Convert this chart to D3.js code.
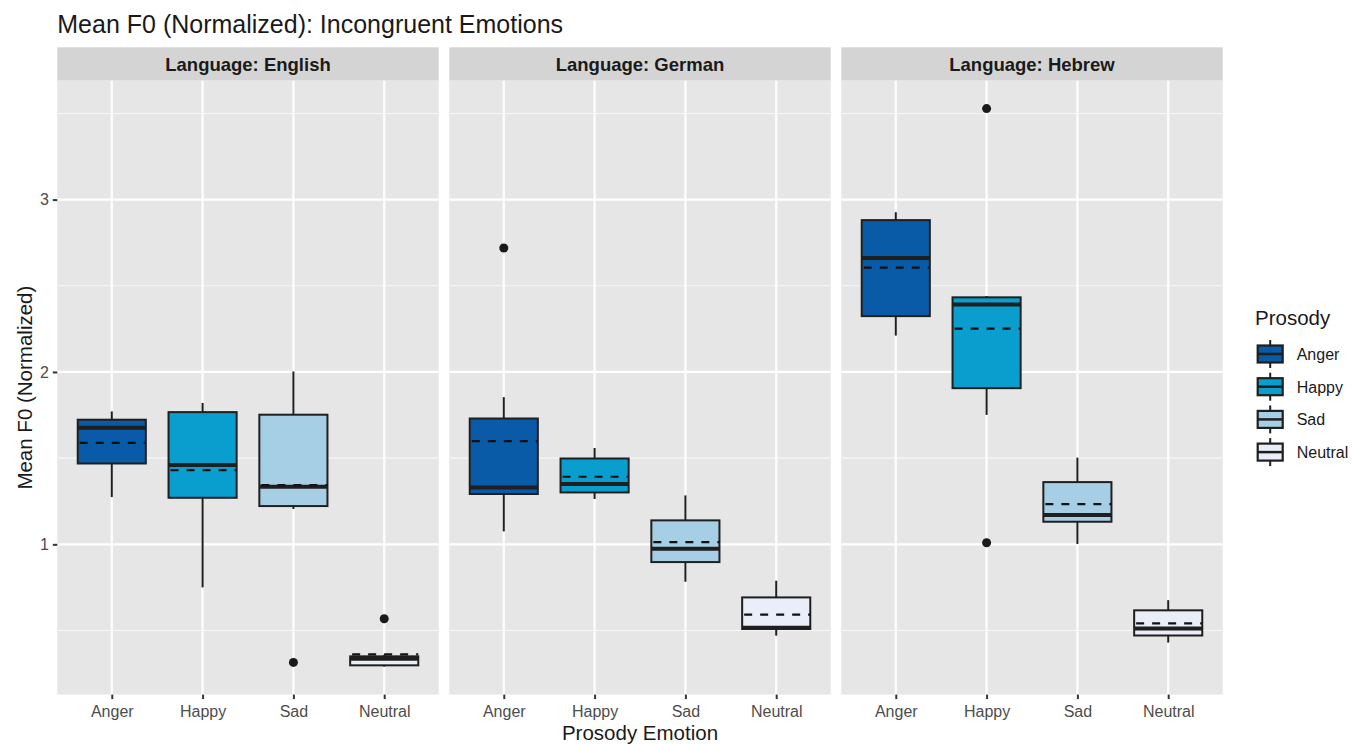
<!DOCTYPE html>
<html>
<head>
<meta charset="utf-8">
<script src="https://cdn.jsdelivr.net/npm/d3@7"></script>
<style>
  html, body { margin: 0; padding: 0; background: #ffffff; }
  svg { display: block; font-family: "Liberation Sans", Arial, Helvetica, sans-serif; }
</style>
</head>
<body>
<svg id="chart" width="1353" height="744"></svg>
<script>
// Facets and categories
const languages = ["English", "German", "Hebrew"];
const emotions = ["Anger", "Happy", "Sad", "Neutral"];
const fillColors = ["#0a5ba7", "#0a9ecf", "#a6cfe5", "#e9eef8"];
const yTicks = [1, 2, 3];

// Box statistics per language, in emotion order:
// [lower whisker, Q1, median, Q3, upper whisker]
const englishStats = [
  [1.274, 1.469, 1.676, 1.723, 1.771],
  [0.750, 1.270, 1.460, 1.767, 1.820],
  [1.205, 1.222, 1.334, 1.752, 2.003],
  [0.290, 0.298, 0.336, 0.350, 0.360]
];
const germanStats = [
  [1.075, 1.292, 1.330, 1.730, 1.854],
  [1.263, 1.301, 1.350, 1.498, 1.559],
  [0.783, 0.897, 0.974, 1.139, 1.284],
  [0.470, 0.509, 0.516, 0.692, 0.789]
];
const hebrewStats = [
  [2.211, 2.324, 2.661, 2.881, 2.927],
  [1.751, 1.906, 2.392, 2.433, 2.441],
  [1.002, 1.131, 1.170, 1.361, 1.503],
  [0.430, 0.471, 0.512, 0.617, 0.676]
];

// Group means (dashed lines)
const englishMeans = [1.589, 1.431, 1.344, 0.361];
const germanMeans = [1.599, 1.392, 1.013, 0.592];
const hebrewMeans = [2.605, 2.252, 1.233, 0.541];

// Outlying points: [emotion index, value]
const englishOutliers = [[2, 0.315], [3, 0.568]];
const germanOutliers = [[0, 2.719]];
const hebrewOutliers = [[1, 3.528], [1, 1.009]];

const statsByLang = [englishStats, germanStats, hebrewStats];
const meansByLang = [englishMeans, germanMeans, hebrewMeans];
const outliersByLang = [englishOutliers, germanOutliers, hebrewOutliers];

// Layout
const svg = d3.select("#chart");
const panelTop = 80.7, panelBottom = 694.6;
const stripTop = 47.3;
const panelLeft0 = 57.3, panelW = 381.4, panelGap = 10.6;
const FONT = "Liberation Sans, Arial, sans-serif";

// Y domain from the data with 5% expansion on each side
const allVals = [];
statsByLang.forEach(s => s.forEach(r => r.forEach(v => allVals.push(v))));
outliersByLang.forEach(o => o.forEach(p => allVals.push(p[1])));
meansByLang.forEach(m => m.forEach(v => allVals.push(v)));
const [ymin, ymax] = d3.extent(allVals);
const pad = (ymax - ymin) * 0.05;
const y = d3.scaleLinear().domain([ymin - pad, ymax + pad]).range([panelBottom, panelTop]);

// Title
svg.append("text")
  .attr("x", panelLeft0).attr("y", 33)
  .attr("font-size", 25).attr("fill", "#1a1a1a")
  .text("Mean F0 (Normalized): Incongruent Emotions");

languages.forEach((lang, li) => {
  const left = panelLeft0 + li * (panelW + panelGap);
  // discrete scale with 0.6 expansion on each side
  const x = d3.scalePoint().domain(emotions).range([left, left + panelW]).padding(0.6);
  const step = x.step();
  const boxW = step * 0.75;

  const g = svg.append("g");

  // strip
  g.append("rect").attr("x", left).attr("y", stripTop)
    .attr("width", panelW).attr("height", panelTop - stripTop)
    .attr("fill", "#d4d4d4");
  g.append("text").attr("x", left + panelW / 2).attr("y", 71.3)
    .attr("text-anchor", "middle").attr("font-size", 18.5).attr("font-weight", "bold")
    .attr("fill", "#1a1a1a").text("Language: " + lang);

  // panel background
  g.append("rect").attr("x", left).attr("y", panelTop)
    .attr("width", panelW).attr("height", panelBottom - panelTop)
    .attr("fill", "#e6e6e6");

  // minor grid
  const minor = d3.range(Math.ceil(y.domain()[0] * 2) / 2, y.domain()[1], 0.5).filter(v => v % 1 !== 0);
  g.selectAll(".minor").data(minor).enter().append("line")
    .attr("x1", left).attr("x2", left + panelW)
    .attr("y1", d => y(d)).attr("y2", d => y(d))
    .attr("stroke", "#f7f7f7").attr("stroke-width", 1.1);
  // major grid
  g.selectAll(".major").data(yTicks).enter().append("line")
    .attr("x1", left).attr("x2", left + panelW)
    .attr("y1", d => y(d)).attr("y2", d => y(d))
    .attr("stroke", "#ffffff").attr("stroke-width", 2.2);
  g.selectAll(".vmajor").data(emotions).enter().append("line")
    .attr("x1", d => x(d)).attr("x2", d => x(d))
    .attr("y1", panelTop).attr("y2", panelBottom)
    .attr("stroke", "#ffffff").attr("stroke-width", 2.2);

  // x axis
  const xAxis = d3.axisBottom(x).tickSize(4.5).tickPadding(4);
  const xa = svg.append("g").attr("transform", `translate(0,${panelBottom})`).call(xAxis);
  xa.select(".domain").remove();
  xa.selectAll(".tick line").attr("stroke", "#333333").attr("stroke-width", 2);
  xa.selectAll(".tick text").attr("font-size", 16).attr("fill", "#4d4d4d")
    .attr("font-family", FONT).attr("dy", "0.9em");

  const stats = statsByLang[li];
  const means = meansByLang[li];

  emotions.forEach((em, ei) => {
    const [lo, q1, med, q3, hi] = stats[ei];
    const cx = x(em);
    // whiskers
    g.append("line").attr("x1", cx).attr("x2", cx).attr("y1", y(hi)).attr("y2", y(q3))
      .attr("stroke", "#1f1f1f").attr("stroke-width", 2);
    g.append("line").attr("x1", cx).attr("x2", cx).attr("y1", y(q1)).attr("y2", y(lo))
      .attr("stroke", "#1f1f1f").attr("stroke-width", 2);
    // box
    g.append("rect").attr("x", cx - boxW / 2).attr("y", y(q3))
      .attr("width", boxW).attr("height", y(q1) - y(q3))
      .attr("fill", fillColors[ei]).attr("stroke", "#1f1f1f").attr("stroke-width", 2);
    // median
    g.append("line").attr("x1", cx - boxW / 2).attr("x2", cx + boxW / 2)
      .attr("y1", y(med)).attr("y2", y(med))
      .attr("stroke", "#1f1f1f").attr("stroke-width", 4);
    // mean (dashed)
    g.append("line").attr("x1", cx - boxW / 2).attr("x2", cx + boxW / 2)
      .attr("y1", y(means[ei])).attr("y2", y(means[ei]))
      .attr("stroke", "#111111").attr("stroke-width", 2.2)
      .attr("stroke-dasharray", "8,8").attr("stroke-dashoffset", -2);
  });

  // outliers
  g.selectAll(".out").data(outliersByLang[li]).enter().append("circle")
    .attr("cx", d => x(emotions[d[0]])).attr("cy", d => y(d[1]))
    .attr("r", 4.5).attr("fill", "#1a1a1a");
});

// y axis
const yAxis = d3.axisLeft(y).tickValues(yTicks).tickSize(4.5).tickPadding(4).tickFormat(d3.format("d"));
const ya = svg.append("g").attr("transform", `translate(${panelLeft0},0)`).call(yAxis);
ya.select(".domain").remove();
ya.selectAll(".tick line").attr("stroke", "#333333").attr("stroke-width", 2);
ya.selectAll(".tick text").attr("font-size", 16).attr("fill", "#4d4d4d")
  .attr("font-family", FONT);

// axis titles
svg.append("text")
  .attr("transform", `translate(32,${(panelTop + panelBottom) / 2}) rotate(-90)`)
  .attr("text-anchor", "middle").attr("font-size", 20.5).attr("fill", "#1a1a1a")
  .text("Mean F0 (Normalized)");
svg.append("text")
  .attr("x", panelLeft0 + (3 * panelW + 2 * panelGap) / 2).attr("y", 740)
  .attr("text-anchor", "middle").attr("font-size", 20.5).attr("fill", "#1a1a1a")
  .text("Prosody Emotion");

// legend
svg.append("text").attr("x", 1255).attr("y", 325)
  .attr("font-size", 20.5).attr("fill", "#1a1a1a").text("Prosody");
const keySpacing = 32.7;
emotions.forEach((em, i) => {
  const cy = 354 + i * keySpacing;
  const kx = 1257.7, kw = 25;
  const lg = svg.append("g");
  lg.append("line").attr("x1", kx + kw / 2).attr("x2", kx + kw / 2)
    .attr("y1", cy - 14).attr("y2", cy + 14).attr("stroke", "#1f1f1f").attr("stroke-width", 2);
  lg.append("rect").attr("x", kx).attr("y", cy - 8.5).attr("width", kw).attr("height", 17)
    .attr("fill", fillColors[i]).attr("stroke", "#1f1f1f").attr("stroke-width", 2.2);
  lg.append("line").attr("x1", kx).attr("x2", kx + kw)
    .attr("y1", cy).attr("y2", cy).attr("stroke", "#1f1f1f").attr("stroke-width", 2.5);
  lg.append("text").attr("x", 1296.7).attr("y", cy + 6)
    .attr("font-size", 16).attr("fill", "#1a1a1a").text(em);
});
</script>
</body>
</html>
